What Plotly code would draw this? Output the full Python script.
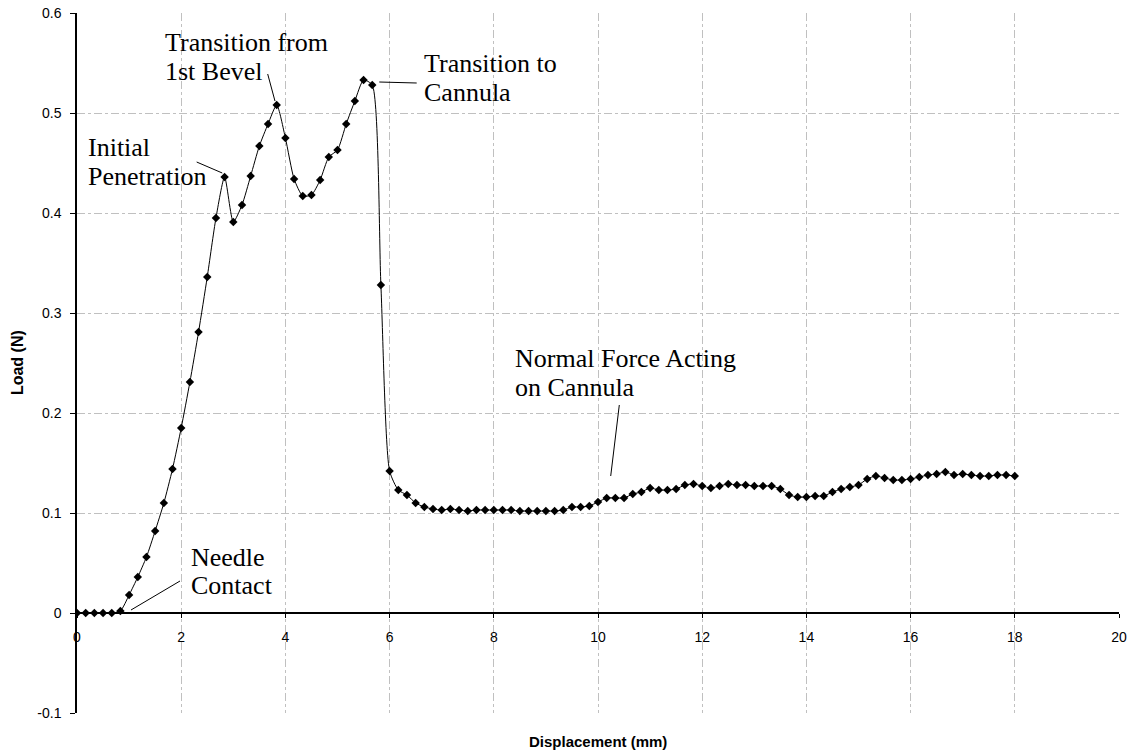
import plotly.graph_objects as go

displacement_mm = [
    0.0, 0.167, 0.333, 0.5, 0.667, 0.833, 1.0, 1.167, 1.333, 1.5, 1.667, 1.833,
    2.0, 2.167, 2.333, 2.5, 2.667, 2.833, 3.0, 3.167, 3.333, 3.5, 3.667, 3.833,
    4.0, 4.167, 4.333, 4.5, 4.667, 4.833, 5.0, 5.167, 5.333, 5.5, 5.667, 5.833,
    6.0, 6.167, 6.333, 6.5, 6.667, 6.833, 7.0, 7.167, 7.333, 7.5, 7.667, 7.833,
    8.0, 8.167, 8.333, 8.5, 8.667, 8.833, 9.0, 9.167, 9.333, 9.5, 9.667, 9.833,
    10.0, 10.167, 10.333, 10.5, 10.667, 10.833, 11.0, 11.167, 11.333, 11.5, 11.667, 11.833,
    12.0, 12.167, 12.333, 12.5, 12.667, 12.833, 13.0, 13.167, 13.333, 13.5, 13.667, 13.833,
    14.0, 14.167, 14.333, 14.5, 14.667, 14.833, 15.0, 15.167, 15.333, 15.5, 15.667, 15.833,
    16.0, 16.167, 16.333, 16.5, 16.667, 16.833, 17.0, 17.167, 17.333, 17.5, 17.667, 17.833,
    18.0,
]

load_N = [
    0.0, 0.0, 0.0, 0.0, 0.0, 0.002, 0.018, 0.036, 0.056, 0.082, 0.110, 0.144,
    0.185, 0.231, 0.281, 0.336, 0.395, 0.436, 0.391, 0.408, 0.437, 0.467, 0.489, 0.508,
    0.475, 0.434, 0.417, 0.418, 0.433, 0.456, 0.463, 0.489, 0.512, 0.533, 0.528, 0.328,
    0.142, 0.123, 0.118, 0.110, 0.106, 0.104, 0.103, 0.104, 0.103, 0.102, 0.103, 0.103,
    0.103, 0.103, 0.103, 0.102, 0.102, 0.102, 0.102, 0.102, 0.103, 0.106, 0.106, 0.107,
    0.111, 0.115, 0.115, 0.115, 0.119, 0.121, 0.125, 0.123, 0.123, 0.124, 0.128, 0.129,
    0.127, 0.125, 0.127, 0.129, 0.128, 0.128, 0.127, 0.127, 0.127, 0.124, 0.118, 0.116,
    0.116, 0.117, 0.117, 0.121, 0.124, 0.126, 0.128, 0.134, 0.137, 0.135, 0.133, 0.133,
    0.134, 0.136, 0.138, 0.139, 0.141, 0.138, 0.139, 0.138, 0.137, 0.137, 0.138, 0.138,
    0.137,
]

x_ticks = [0, 2, 4, 6, 8, 10, 12, 14, 16, 18, 20]
y_ticks = [-0.1, 0, 0.1, 0.2, 0.3, 0.4, 0.5, 0.6]
y_tick_text = ["-0.1", "0", "0.1", "0.2", "0.3", "0.4", "0.5", "0.6"]

# annotation text lines: (text, x, y)
label_lines = [
    ("Initial", 0.173, 0.466),
    ("Penetration", 0.173, 0.437),
    ("Transition from", 1.645, 0.571),
    ("1st Bevel", 1.645, 0.542),
    ("Transition to", 6.616, 0.550),
    ("Cannula", 6.616, 0.521),
    ("Normal Force Acting", 8.369, 0.255),
    ("on Cannula", 8.369, 0.226),
    ("Needle", 2.155, 0.056),
    ("Contact", 2.155, 0.028),
]
# leader lines: (x0, y0, x1, y1)
leaders = [
    (2.297, 0.451, 2.788, 0.440),
    (3.660, 0.539, 3.800, 0.512),
    (5.802, 0.531, 6.520, 0.530),
    (10.409, 0.208, 10.244, 0.137),
    (1.977, 0.032, 1.036, 0.003),
]

GRID = "#c0c0c0"
DASH = "8px,3px,3px,3px"
TICKFONT = dict(family="Arial, Liberation Sans, sans-serif", size=14, color="#000000")

fig = go.Figure()
fig.add_trace(go.Scatter(
    x=displacement_mm, y=load_N, mode="lines+markers",
    line=dict(color="#000000", width=1, shape="spline", smoothing=0.6),
    marker=dict(symbol="diamond", size=6.5, color="#000000"),
    showlegend=False, hoverinfo="skip",
))

for (x0, y0, x1, y1) in leaders:
    fig.add_shape(type="line", x0=x0, y0=y0, x1=x1, y1=y1, xref="x", yref="y",
                  line=dict(color="#000000", width=1))

for (txt, x, y) in label_lines:
    fig.add_annotation(text=txt, x=x, y=y, xref="x", yref="y", showarrow=False,
                       xanchor="left", yanchor="middle",
                       font=dict(family="Times New Roman, Liberation Serif, serif", size=26, color="#000000"))

fig.update_layout(
    width=1132, height=754, autosize=False,
    margin=dict(l=77, r=13, t=13, b=41, autoexpand=False),
    paper_bgcolor="#ffffff", plot_bgcolor="#ffffff",
    xaxis=dict(
        range=[0, 20], tickvals=x_ticks, ticktext=[str(v) for v in x_ticks],
        showgrid=True, gridcolor=GRID, griddash=DASH, gridwidth=1,
        showline=True, linecolor="#000000", linewidth=1.5,
        ticks="outside", ticklen=4, tickcolor="#000000",
        anchor="free", position=1 / 7, automargin=False,
        zeroline=False, tickfont=TICKFONT, ticklabelstandoff=7,
    ),
    yaxis=dict(
        range=[-0.1, 0.6], tickvals=y_ticks, ticktext=y_tick_text,
        showgrid=True, gridcolor=GRID, griddash=DASH, gridwidth=1,
        showline=True, linecolor="#000000", linewidth=1.5,
        ticks="outside", ticklen=5, tickcolor="#000000", automargin=False,
        zeroline=False, tickfont=TICKFONT, ticklabelstandoff=6,
    ),
)

fig.add_annotation(text="<b>Displacement (mm)</b>", xref="paper", yref="paper",
                   x=0.5, y=-0.04, xanchor="center", yanchor="middle", showarrow=False,
                   font=dict(family="Arial, Liberation Sans, sans-serif", size=15, color="#000000"))
fig.add_annotation(text="<b>Load (N)</b>", xref="paper", yref="paper",
                   x=-0.0575, y=0.5, xanchor="center", yanchor="middle", showarrow=False,
                   textangle=-90,
                   font=dict(family="Arial, Liberation Sans, sans-serif", size=16, color="#000000"))

fig.write_html("out.html")
